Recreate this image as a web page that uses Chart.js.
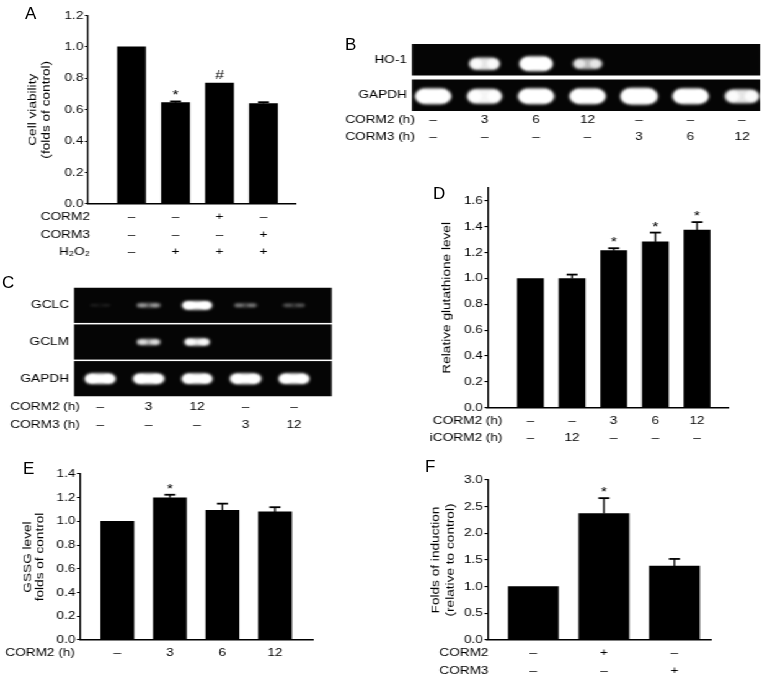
<!DOCTYPE html>
<html>
<head>
<meta charset="utf-8">
<script src="https://cdn.jsdelivr.net/npm/chart.js@4.4.1/dist/chart.umd.min.js"></script>
<style>
  html, body { margin: 0; padding: 0; background: #fff; }
  body { width: 765px; height: 680px; position: relative; overflow: hidden;
         font-family: 'Liberation Sans', Arial, sans-serif; }
  #fig { position: absolute; left: 0; top: 0; height: 680px; transform-origin: 0 0; }
  #fig canvas { position: absolute; }
  .tag { position: absolute; font-size: 17px; line-height: 17px; color: #000; }
</style>
</head>
<body>
<div id="fig"></div>
<div class="tag" style="left:25px;top:5px">A</div>
<div class="tag" style="left:345px;top:36px">B</div>
<div class="tag" style="left:2px;top:274px">C</div>
<div class="tag" style="left:433px;top:185px">D</div>
<div class="tag" style="left:23px;top:460px">E</div>
<div class="tag" style="left:425px;top:458px">F</div>
<script>
// ---- data ----
// A: cell viability
const aValues = [1.0, 0.645, 0.77, 0.64];
const aErrors = [0, 0.008, 0, 0.008];
const aMarks = ['', '*', '#', ''];
const aTicks = [0, 0.2, 0.4, 0.6, 0.8, 1.0, 1.2];
const aCorm2 = ['–', '–', '+', '–'];
const aCorm3 = ['–', '–', '–', '+'];
const aH2o2 = ['–', '+', '+', '+'];

// B: HO-1 / GAPDH gel (band intensity per lane)
const bHo1 = [0, 0.75, 1.0, 0.6, 0, 0, 0];
const bGapdh = [0.9, 0.8, 0.9, 0.9, 1.0, 0.9, 0.75];
const bCorm2 = ['–', '3', '6', '12', '–', '–', '–'];
const bCorm3 = ['–', '–', '–', '–', '3', '6', '12'];

// C: GCLC / GCLM / GAPDH gel
const cGclc = [0.05, 0.32, 0.95, 0.24, 0.16];
const cGclm = [0, 0.55, 0.75, 0, 0];
const cGapdh = [0.95, 1.0, 0.95, 1.0, 0.95];
const cCorm2 = ['–', '3', '12', '–', '–'];
const cCorm3 = ['–', '–', '–', '3', '12'];

// D: relative glutathione level
const dValues = [1.0, 1.0, 1.215, 1.283, 1.374];
const dErrors = [0, 0.03, 0.019, 0.072, 0.062];
const dMarks = ['', '', '*', '*', '*'];
const dTicks = [0, 0.2, 0.4, 0.6, 0.8, 1.0, 1.2, 1.4, 1.6];
const dCorm2 = ['–', '–', '3', '6', '12'];
const dIcorm2 = ['–', '12', '–', '–', '–'];

// E: GSSG level
const eValues = [1.0, 1.2, 1.093, 1.08];
const eErrors = [0, 0.025, 0.057, 0.04];
const eMarks = ['', '*', '', ''];
const eTicks = [0, 0.2, 0.4, 0.6, 0.8, 1.0, 1.2, 1.4];
const eCorm2 = ['–', '3', '6', '12'];

// F: folds of induction
const fValues = [1.0, 2.37, 1.385];
const fErrors = [0, 0.29, 0.135];
const fMarks = ['', '*', ''];
const fTicks = [0, 0.5, 1.0, 1.5, 2.0, 2.5, 3.0];
const fCorm2 = ['–', '+', '–'];
const fCorm3 = ['–', '–', '+'];

// ---- layout ----
const S = 1.24;              // text in the figure is widened along its baseline
const px = v => v / S;
const FAMILY = "'Liberation Sans', Arial, sans-serif";
const FS = 11;

Chart.defaults.font.family = FAMILY;
Chart.defaults.font.size = FS;
Chart.defaults.color = '#000';

const fig = document.getElementById('fig');
fig.style.width = px(765) + 'px';
fig.style.transform = `scaleX(${S})`;

function addCanvas(box) {
  const [L, T, W, H] = box;
  const c = document.createElement('canvas');
  c.width = Math.round(px(W));
  c.height = H;
  c.style.left = px(L) + 'px';
  c.style.top = T + 'px';
  fig.appendChild(c);
  return c;
}

/* plugins */
const errorBars = {
  id: 'errorBars',
  afterDatasetsDraw(chart, args, opts) {
    const { ctx, scales: { y } } = chart;
    const meta = chart.getDatasetMeta(0);
    const data = chart.data.datasets[0].data;
    ctx.save();
    ctx.strokeStyle = '#000';
    ctx.fillStyle = '#000';
    meta.data.forEach((bar, i) => {
      const err = opts.errors[i] || 0;
      let top = bar.y;
      if (err > 0) {
        top = y.getPixelForValue(data[i].y + err);
        ctx.lineWidth = 1.3;
        ctx.beginPath();
        ctx.moveTo(bar.x, bar.y);
        ctx.lineTo(bar.x, top);
        ctx.stroke();
        ctx.lineWidth = 1.8;
        ctx.beginPath();
        ctx.moveTo(bar.x - px(5.5), top);
        ctx.lineTo(bar.x + px(5.5), top);
        ctx.stroke();
      }
      const m = opts.marks[i];
      if (m) {
        ctx.font = `13px ${FAMILY}`;
        ctx.textAlign = 'center';
        ctx.textBaseline = 'alphabetic';
        const tm = ctx.measureText(m);
        const cy = top - 8.5;
        ctx.fillText(m, bar.x, cy + (tm.actualBoundingBoxAscent - tm.actualBoundingBoxDescent) / 2);
      }
    });
    ctx.restore();
  }
};

const rowLabels = {
  id: 'rowLabels',
  afterDraw(chart, args, opts) {
    const { ctx, chartArea, scales: { x } } = chart;
    ctx.save();
    ctx.font = `${FS}px ${FAMILY}`;
    ctx.fillStyle = '#000';
    ctx.textBaseline = 'middle';
    opts.rows.forEach((row, r) => {
      const yy = chartArea.bottom + opts.offsets[r];
      ctx.textAlign = 'right';
      ctx.fillText(row.name, opts.nameRight, yy);
      ctx.textAlign = 'center';
      row.values.forEach((v, i) => ctx.fillText(v, x.getPixelForValue(i + 1), yy));
    });
    ctx.restore();
  }
};

// rotated y title, widened along its own baseline like the rest of the text
const yTitle = {
  id: 'yTitle',
  afterDraw(chart, args, opts) {
    const { ctx, chartArea } = chart;
    const cy = (chartArea.top + chartArea.bottom) / 2;
    ctx.save();
    ctx.font = `${FS}px ${FAMILY}`;
    ctx.fillStyle = '#000';
    ctx.textAlign = 'center';
    ctx.textBaseline = 'middle';
    opts.lines.forEach((line, i) => {
      ctx.save();
      ctx.translate(opts.x[i], cy);
      ctx.scale(1 / S, 1);
      ctx.rotate(-Math.PI / 2);
      ctx.scale(S, 1);
      ctx.fillText(line, 0, 0);
      ctx.restore();
    });
    ctx.restore();
  }
};

const gelBands = {
  id: 'gelBands',
  beforeDatasetsDraw(chart, args, opts) {
    const { ctx, chartArea: a, scales: { y } } = chart;
    const n = chart.data.datasets.length;
    const stripH = a.height / n;
    ctx.save();
    ctx.fillStyle = '#050505';
    chart.data.datasets.forEach((ds, s) => {
      const yc = y.getPixelForValue(s);
      ctx.fillRect(a.left, yc - stripH / 2 + opts.gap / 2, a.width, stripH - opts.gap);
    });
    chart.data.datasets.forEach((ds, s) => {
      const meta = chart.getDatasetMeta(s);
      const sz = opts.bands[s];
      meta.data.forEach((pt, i) => {
        const v = ds.data[i].v;
        if (v < 0.02) return;
        const w = sz.w * (0.7 + 0.3 * v);
        const h = sz.h * (0.35 + 0.65 * v);
        const cx = pt.x, cy = pt.y + sz.dy;
        ctx.filter = 'blur(1.6px)';
        ctx.fillStyle = `rgba(255,255,255,${Math.min(1, v * 1.2)})`;
        ctx.beginPath();
        ctx.roundRect(cx - w / 2, cy - h / 2, w, h, h / 2);
        ctx.fill();
        // brighter lobes toward both ends of the band
        ctx.filter = 'blur(1px)';
        ctx.fillStyle = `rgba(255,255,255,${Math.min(1, v * 1.1)})`;
        [-1, 1].forEach(side => {
          ctx.beginPath();
          ctx.ellipse(cx + side * w * 0.27, cy, w * 0.2, h * 0.36, 0, 0, Math.PI * 2);
          ctx.fill();
        });
      });
    });
    ctx.restore();
  }
};

/* bar panels */
function barPanel(p) {
  const [L, T, W, H] = p.box;
  const [x0, y0, x1, y1] = p.area;
  const canvas = addCanvas(p.box);
  return new Chart(canvas, {
    type: 'bar',
    data: {
      datasets: [{
        data: p.values.map((v, i) => ({ x: i + 1, y: v })),
        backgroundColor: '#000',
        borderWidth: 0,
        barThickness: px(p.barW)
      }]
    },
    options: {
      responsive: false,
      animation: false,
      events: [],
      layout: { padding: { top: y0 - T, bottom: T + H - y1, left: 0, right: px(L + W - x1) } },
      plugins: {
        legend: { display: false },
        tooltip: { enabled: false },
        errorBars: { errors: p.errors, marks: p.marks },
        rowLabels: { rows: p.rows, offsets: p.offsets, nameRight: px(p.nameRight - L) },
        yTitle: { lines: p.title, x: p.titleX.map(v => px(v - L)) }
      },
      scales: {
        x: {
          type: 'linear', min: p.xRange[0], max: p.xRange[1], offset: false,
          ticks: { display: false },
          grid: { display: false },
          border: { display: true, color: '#000', width: 1.5 },
          afterFit: s => { s.height = 0; }
        },
        y: {
          min: 0, max: p.yMax,
          afterBuildTicks: s => { s.ticks = p.ticks.map(v => ({ value: v })); },
          ticks: { callback: v => v.toFixed(1), padding: 1.2 },
          grid: { display: true, drawOnChartArea: false, drawTicks: true, tickLength: 2.5, color: '#000', lineWidth: 1.1 },
          border: { display: true, color: '#000', width: 1.3 },
          afterFit: s => { s.width = px(x0 - L); }
        }
      }
    },
    plugins: [errorBars, rowLabels, yTitle]
  });
}

/* gel panels */
function gelPanel(p) {
  const [L, T, W, H] = p.box;
  const [x0, y0, x1, y1] = p.area;
  const canvas = addCanvas(p.box);
  return new Chart(canvas, {
    type: 'scatter',
    data: {
      datasets: p.strips.map(s => ({
        data: s.values.map((v, i) => ({ x: i + 1, y: s.label, v })),
        pointRadius: 0
      }))
    },
    options: {
      responsive: false,
      animation: false,
      events: [],
      layout: { padding: { top: y0 - T, bottom: T + H - y1, left: 0, right: px(L + W - x1) } },
      plugins: {
        legend: { display: false },
        tooltip: { enabled: false },
        gelBands: { bands: p.bands, gap: p.gap },
        rowLabels: { rows: p.rows, offsets: p.offsets, nameRight: px(p.nameRight - L) }
      },
      scales: {
        x: { type: 'linear', min: p.xRange[0], max: p.xRange[1], display: false },
        y: {
          type: 'category', labels: p.strips.map(s => s.label), offset: true,
          grid: { display: false, drawTicks: false },
          border: { display: false },
          ticks: { padding: px(5) },
          afterFit: s => { s.width = px(x0 - L); }
        }
      }
    },
    plugins: [gelBands, rowLabels]
  });
}

barPanel({
  box: [0, 0, 310, 265], area: [88, 15.5, 296, 204], xRange: [0.01, 4.74],
  yMax: 1.2, ticks: aTicks, values: aValues, errors: aErrors, marks: aMarks, barW: 28,
  title: ['Cell viability', '(folds of control)'], titleX: [32.5, 46.5],
  rows: [{ name: 'CORM2', values: aCorm2 }, { name: 'CORM3', values: aCorm3 }, { name: 'H₂O₂', values: aH2o2 }],
  offsets: [13, 31, 48], nameRight: 90
});

gelPanel({
  box: [320, 30, 445, 120], area: [412, 42, 760, 113], xRange: [0.59, 7.35], gap: 4,
  strips: [{ label: 'HO-1', values: bHo1 }, { label: 'GAPDH', values: bGapdh }],
  bands: [{ w: px(33), h: 15, dy: 4 }, { w: px(37), h: 17, dy: 1 }],
  rows: [{ name: 'CORM2 (h)', values: bCorm2 }, { name: 'CORM3 (h)', values: bCorm3 }],
  offsets: [7, 24], nameRight: 415
});

gelPanel({
  box: [0, 270, 340, 170], area: [74, 287, 332, 397], xRange: [0.46, 5.78], gap: 1.5,
  strips: [{ label: 'GCLC', values: cGclc }, { label: 'GCLM', values: cGclm }, { label: 'GAPDH', values: cGapdh }],
  bands: [{ w: px(30), h: 9, dy: 0 }, { w: px(27), h: 9, dy: 0 }, { w: px(31), h: 11, dy: 0 }],
  rows: [{ name: 'CORM2 (h)', values: cCorm2 }, { name: 'CORM3 (h)', values: cCorm3 }],
  offsets: [10, 28], nameRight: 80
});

barPanel({
  box: [400, 180, 365, 270], area: [487, 188, 729, 407.7], xRange: [-0.03, 5.77],
  yMax: 1.7, ticks: dTicks, values: dValues, errors: dErrors, marks: dMarks, barW: 26,
  title: ['Relative glutathione level'], titleX: [446],
  rows: [{ name: 'CORM2 (h)', values: dCorm2 }, { name: 'iCORM2 (h)', values: dIcorm2 }],
  offsets: [13.3, 30.3], nameRight: 502
});

barPanel({
  box: [0, 460, 330, 215], area: [80, 474, 313, 640], xRange: [0.29, 4.72],
  yMax: 1.4, ticks: eTicks, values: eValues, errors: eErrors, marks: eMarks, barW: 33,
  title: ['GSSG level', 'folds of control'], titleX: [27.5, 40],
  rows: [{ name: 'CORM2 (h)', values: eCorm2 }],
  offsets: [13], nameRight: 75
});

barPanel({
  box: [400, 460, 365, 220], area: [487, 480, 711, 640], xRange: [0.35, 3.52],
  yMax: 3.0, ticks: fTicks, values: fValues, errors: fErrors, marks: fMarks, barW: 50,
  title: ['Folds of induction', '(relative to control)'], titleX: [435, 450],
  rows: [{ name: 'CORM2', values: fCorm2 }, { name: 'CORM3', values: fCorm3 }],
  offsets: [13, 31], nameRight: 488
});
</script>
</body>
</html>
